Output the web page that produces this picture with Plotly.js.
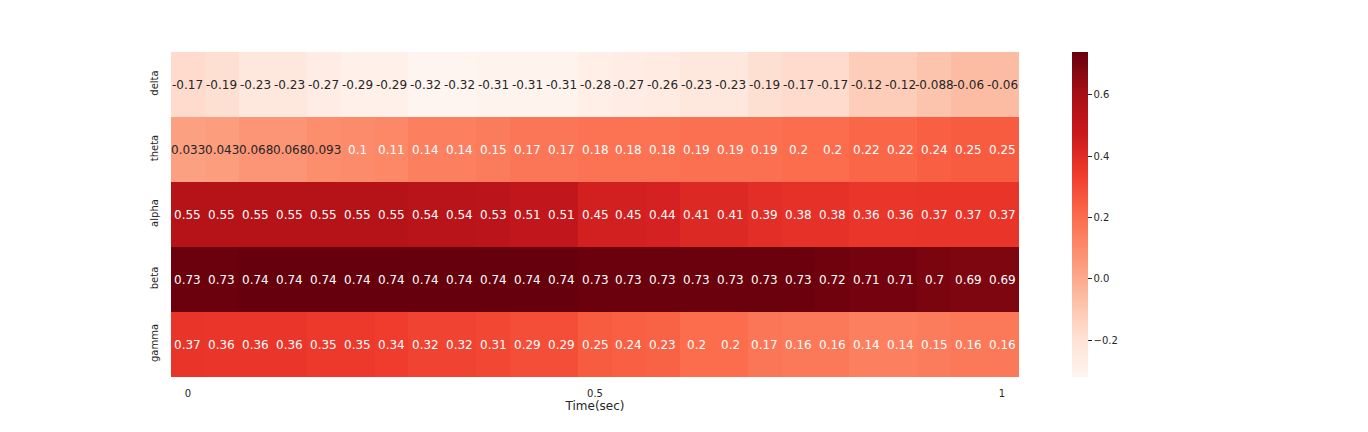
<!DOCTYPE html>
<html>
<head>
<meta charset="utf-8">
<script src="https://cdn.plot.ly/plotly-3.0.1.min.js"></script>
<style>html,body{margin:0;padding:0;background:#fff;}#chart{width:1368px;height:432px;}</style>
</head>
<body>
<div id="chart"></div>
<script>
const bands = ["delta", "theta", "alpha", "beta", "gamma"];
const delta = [-0.17,-0.19,-0.23,-0.23,-0.27,-0.29,-0.29,-0.32,-0.32,-0.31,-0.31,-0.31,-0.28,-0.27,-0.26,-0.23,-0.23,-0.19,-0.17,-0.17,-0.12,-0.12,-0.088,-0.06,-0.06];
const theta = [0.033,0.043,0.068,0.068,0.093,0.1,0.11,0.14,0.14,0.15,0.17,0.17,0.18,0.18,0.18,0.19,0.19,0.19,0.2,0.2,0.22,0.22,0.24,0.25,0.25];
const alpha = [0.55,0.55,0.55,0.55,0.55,0.55,0.55,0.54,0.54,0.53,0.51,0.51,0.45,0.45,0.44,0.41,0.41,0.39,0.38,0.38,0.36,0.36,0.37,0.37,0.37];
const beta  = [0.73,0.73,0.74,0.74,0.74,0.74,0.74,0.74,0.74,0.74,0.74,0.74,0.73,0.73,0.73,0.73,0.73,0.73,0.73,0.72,0.71,0.71,0.7,0.69,0.69];
const gamma = [0.37,0.36,0.36,0.36,0.35,0.35,0.34,0.32,0.32,0.31,0.29,0.29,0.25,0.24,0.23,0.2,0.2,0.17,0.16,0.16,0.14,0.14,0.15,0.16,0.16];
const tickPositions = [0, 12, 24];
const tickLabels = ["0", "0.5", "1"];

const rows = [delta, theta, alpha, beta, gamma];
const nCols = delta.length;
const cols = Array.from({length: nCols}, (_, i) => i);

const redsHex = ["#fff5f0","#fee0d2","#fcbba1","#fc9272","#fb6a4a","#ef3b2c","#cb181d","#a50f15","#67000d"];
const redsScale = redsHex.map((c, i) => [i / (redsHex.length - 1), c]);

const allVals = rows.flat();
const zmin = Math.min(...allVals), zmax = Math.max(...allVals);

function hexToRgb(h){return [parseInt(h.slice(1,3),16),parseInt(h.slice(3,5),16),parseInt(h.slice(5,7),16)];}
function colorAt(v){
  let t = (v - zmin) / (zmax - zmin);
  t = Math.max(0, Math.min(1, t));
  const pos = t * (redsHex.length - 1);
  const i = Math.min(Math.floor(pos), redsHex.length - 2);
  const f = pos - i;
  const a = hexToRgb(redsHex[i]), b = hexToRgb(redsHex[i+1]);
  return a.map((x, k) => (x + (b[k] - x) * f) / 255);
}
function lum(rgb){
  const c = rgb.map(x => x <= 0.03928 ? x / 12.92 : Math.pow((x + 0.055) / 1.055, 2.4));
  return 0.2126*c[0] + 0.7152*c[1] + 0.0722*c[2];
}

const annotations = [];
rows.forEach((row, r) => {
  row.forEach((v, c) => {
    annotations.push({
      x: c, y: bands[r], xref: "x", yref: "y",
      text: String(v), showarrow: false,
      font: {family: "DejaVu Sans", size: 12, color: lum(colorAt(v)) > 0.408 ? "#262626" : "#ffffff"}
    });
  });
});

const trace = {
  type: "heatmap",
  x: cols, y: bands, z: rows,
  colorscale: redsScale, zmin: zmin, zmax: zmax,
  xgap: 0, ygap: 0,
  hoverinfo: "skip",
  colorbar: {
    x: 1.0625, xanchor: "left", xref: "paper", xpad: 0, ypad: 0,
    y: 0.5, yanchor: "middle", len: 1, lenmode: "fraction",
    thickness: 16, outlinewidth: 0,
    ticks: "outside", ticklen: 4, tickwidth: 1, tickcolor: "#262626",
    tickvals: [-0.2, 0, 0.2, 0.4, 0.6],
    ticktext: ["\u22120.2", "0.0", "0.2", "0.4", "0.6"],
    tickfont: {family: "DejaVu Sans", size: 10, color: "#262626"}
  }
};

const layout = {
  width: 1368, height: 432,
  margin: {l: 171, r: 349, t: 52, b: 55, pad: 0},
  paper_bgcolor: "#ffffff", plot_bgcolor: "#ffffff",
  font: {family: "DejaVu Sans", color: "#262626"},
  xaxis: {
    range: [-0.5, nCols - 0.5], tickvals: tickPositions, ticktext: tickLabels,
    showgrid: false, zeroline: false, showline: false, ticks: "", ticklen: 0,
    ticklabelstandoff: 9,
    tickfont: {family: "DejaVu Sans", size: 10, color: "#262626"},
    title: {text: "Time(sec)", font: {family: "DejaVu Sans", size: 12, color: "#262626"}, standoff: 2}
  },
  yaxis: {
    autorange: "reversed", type: "category",
    showgrid: false, zeroline: false, showline: false, ticks: "", ticklen: 0,
    tickangle: -90, ticklabelstandoff: 10,
    tickfont: {family: "DejaVu Sans", size: 10, color: "#262626"}
  },
  annotations: annotations
};

Plotly.newPlot("chart", [trace], layout, {displayModeBar: false, staticPlot: true});
</script>
</body>
</html>
